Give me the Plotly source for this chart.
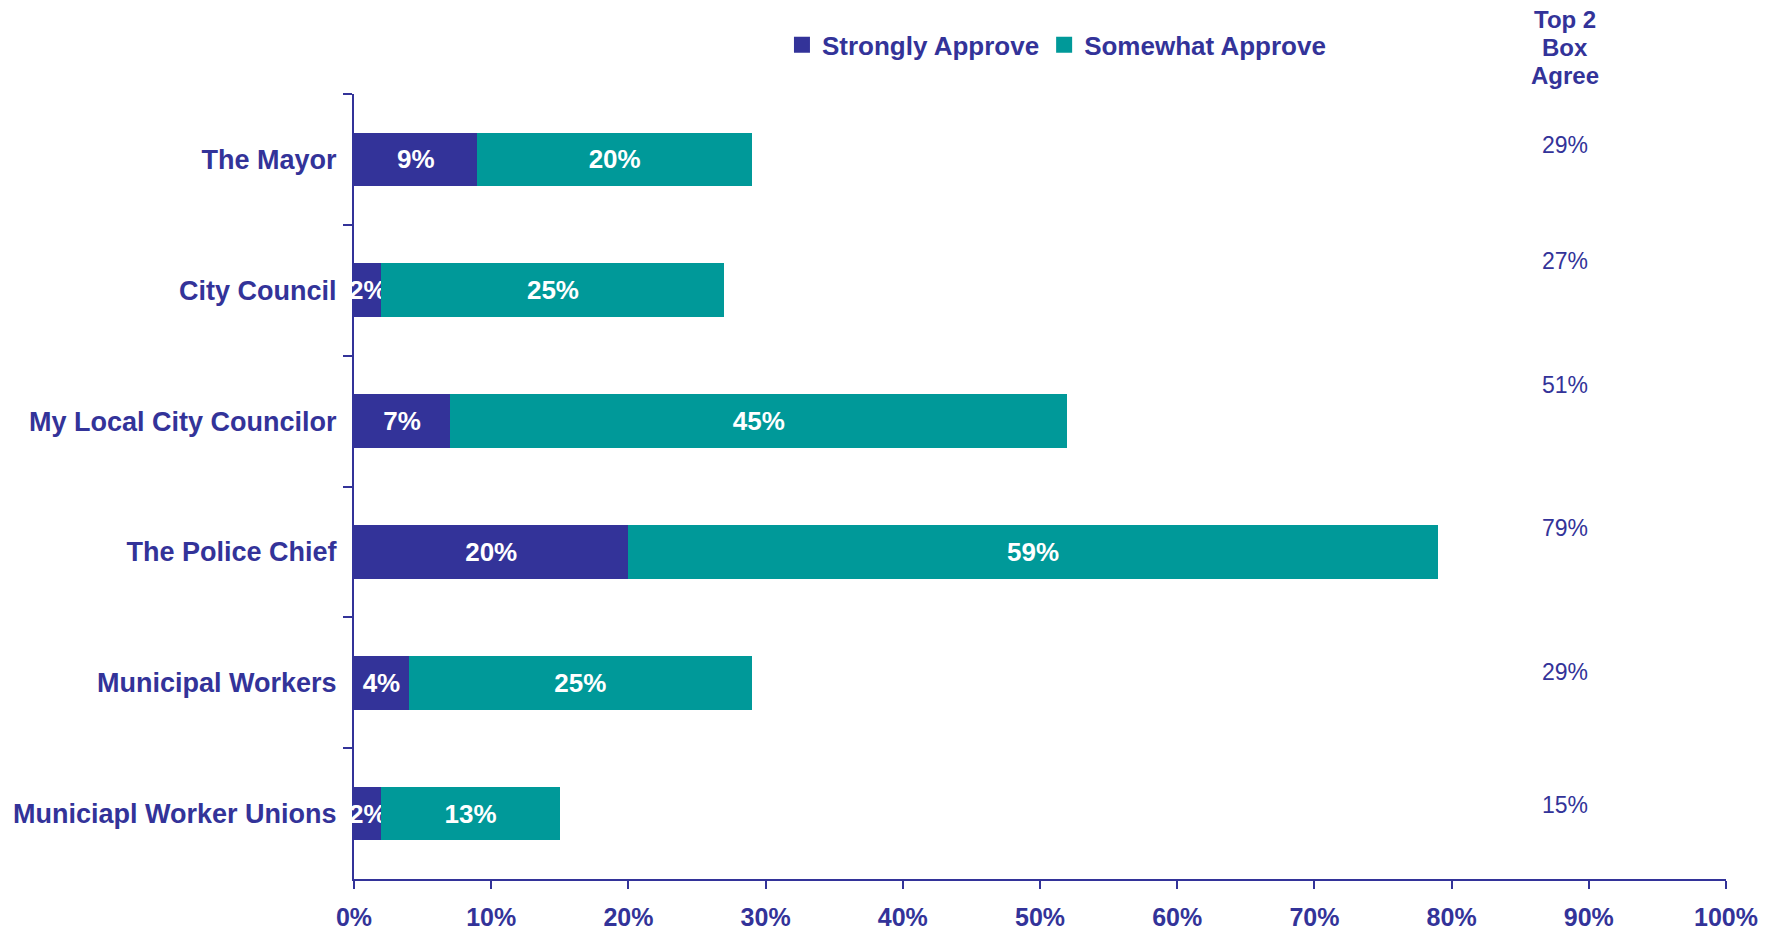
import plotly.graph_objects as go

categories = ['The Mayor', 'City Council', 'My Local City Councilor',
              'The Police Chief', 'Municipal Workers', 'Municiapl Worker Unions']
strongly = [9, 2, 7, 20, 4, 2]
somewhat = [20, 25, 45, 59, 25, 13]
top2 = [29, 27, 51, 79, 29, 15]
x_ticks = [0, 10, 20, 30, 40, 50, 60, 70, 80, 90, 100]
header_lines = ['Top 2', 'Box', 'Agree']

# vertical offsets (px) of the Top 2 Box labels above each bar centre
top2_shift = [14, 29, 36, 24, 11, 9]

navy = '#333399'
teal = '#009999'
font = 'Liberation Sans, Arial, sans-serif'

fig = go.Figure()
for vals, name, color in [(strongly, 'Strongly Approve', navy), (somewhat, 'Somewhat Approve', teal)]:
    fig.add_trace(go.Bar(
        y=categories, x=vals, orientation='h', name=name, showlegend=False,
        marker=dict(color=color, line=dict(width=0)),
        text=[f'{v}%' for v in vals], textposition='inside', insidetextanchor='middle',
        textangle=0, textfont=dict(color='white', size=26, family=font, weight='bold'),
        constraintext='none', cliponaxis=False,
    ))
    # legend entry with a bigger square swatch
    fig.add_trace(go.Scatter(
        x=[None], y=[None], mode='markers', name=name,
        marker=dict(symbol='square', size=16, color=color),
    ))

# Top 2 Box column
for i, line in enumerate(header_lines):
    fig.add_annotation(text=f'<b>{line}</b>', xref='paper', yref='paper',
                       x=0.883, y=1.095 - i * 0.0358, xanchor='center', yanchor='middle',
                       showarrow=False, font=dict(size=24, color=navy, family=font))
for cat, v, s in zip(categories, top2, top2_shift):
    fig.add_annotation(text=f'{v}%', xref='paper', yref='y', x=0.883, y=cat,
                       yshift=s, xanchor='center', showarrow=False,
                       font=dict(size=23, color=navy, family=font))

fig.update_layout(
    barmode='stack', bargap=0.59,
    width=1784, height=931,
    margin=dict(l=354, r=58, t=94, b=52),
    plot_bgcolor='white', paper_bgcolor='white',
    font=dict(family=font, color=navy),
    uniformtext=dict(mode='show', minsize=26),
    showlegend=True,
    legend=dict(orientation='h', x=0.512, y=1.0625, xanchor='center', yanchor='middle',
                font=dict(size=26, color=navy, family=font, weight='bold'),
                itemwidth=30, traceorder='normal', tracegroupgap=0),
    xaxis=dict(range=[0, 100], tickvals=x_ticks, ticktext=[f'{t}%' for t in x_ticks],
               showgrid=False, zeroline=False, showline=True, linecolor=navy, linewidth=2,
               ticks='outside', ticklen=8, tickwidth=2, tickcolor=navy, automargin=False,
               tickfont=dict(size=25, color=navy, family=font, weight='bold'),
               ticklabelstandoff=7, layer='below traces'),
    yaxis=dict(autorange='reversed', showgrid=False, zeroline=False, showline=True,
               linecolor=navy, linewidth=2, ticks='outside', tickson='boundaries',
               ticklen=9, tickwidth=2, tickcolor=navy, ticklabelstandoff=10,
               automargin=False, layer='below traces',
               tickfont=dict(size=27, color=navy, family=font, weight='bold')),
)

# drop the page's default body margin so the figure fills the window exactly
fig.write_html('out.html', config={'displayModeBar': False},
               post_script="document.body.style.margin='0px';")
